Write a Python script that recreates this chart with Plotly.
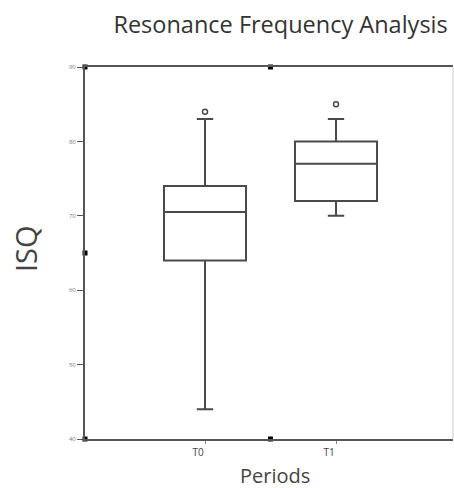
import plotly.graph_objects as go

categories = ["T0", "T1"]
q1 = [64, 72]
median = [70.5, 77]
q3 = [74, 80]
lower_whisker = [44, 70]
upper_whisker = [83, 83]
outliers = [84, 85]
y_ticks = [40, 50, 60, 70, 80, 90]
corner_x = [-0.916, 0.5, -0.916, -0.916, 0.5]
corner_y = [90, 90, 65, 40, 40]

xpos = list(range(len(categories)))
line_col = "#4a4a4a"
font_fam = "Open Sans, sans-serif"

fig = go.Figure()
fig.add_trace(go.Box(
    x=xpos, q1=q1, median=median, q3=q3,
    lowerfence=lower_whisker, upperfence=upper_whisker,
    width=0.626, whiskerwidth=0.2,
    fillcolor="rgba(0,0,0,0)",
    line=dict(color=line_col, width=2),
    boxpoints=False, showlegend=False, hoverinfo="skip",
))
fig.add_trace(go.Scatter(
    x=xpos, y=outliers, mode="markers",
    marker=dict(symbol="circle-open", size=5, color=line_col, line=dict(width=1.5)),
    showlegend=False, hoverinfo="skip",
))
fig.add_trace(go.Scatter(
    x=corner_x, y=corner_y, mode="markers",
    marker=dict(symbol="square", size=5, color="black"),
    cliponaxis=False, showlegend=False, hoverinfo="skip",
))

fig.update_layout(
    width=454, height=488,
    margin=dict(l=85, r=1, t=67, b=49),
    paper_bgcolor="white", plot_bgcolor="white",
    font=dict(family=font_fam, color="#444"),
    title=dict(text="Resonance Frequency Analysis", x=0.618, xanchor="center",
               y=0.949, yanchor="middle", font=dict(size=23.5, color="#333")),
    xaxis=dict(
        range=[-0.916, 1.893], tickvals=xpos, ticktext=categories,
        showline=True, linecolor="#555", linewidth=2, mirror=True,
        ticks="outside", ticklen=3, tickcolor="#888",
        ticklabelshift=-7,
        showgrid=False, zeroline=False,
        tickfont=dict(size=10, color="#444"),
    ),
    yaxis=dict(
        range=[40, 90], tickvals=y_ticks,
        showline=True, linecolor="#555", linewidth=2,
        ticks="outside", ticklen=6, tickcolor="#555",
        showgrid=False, zeroline=False,
        tickfont=dict(size=6, color="#777"),
    ),
    annotations=[
        dict(text="Periods", xref="paper", yref="paper", x=0.516, y=-0.098,
             xanchor="center", yanchor="middle", showarrow=False,
             font=dict(size=20, color="#444")),
        dict(text="ISQ", xref="paper", yref="paper", x=-0.160, y=0.511,
             xanchor="center", yanchor="middle", showarrow=False, textangle=-90,
             font=dict(size=29, color="#444")),
    ],
    shapes=[dict(type="line", xref="paper", yref="paper", x0=1, x1=1, y0=0, y1=1,
                 line=dict(color="#ccc", width=1))],
)

fig.write_html("out.html", config={"displayModeBar": False},
               post_script="document.body.style.margin='0';")
